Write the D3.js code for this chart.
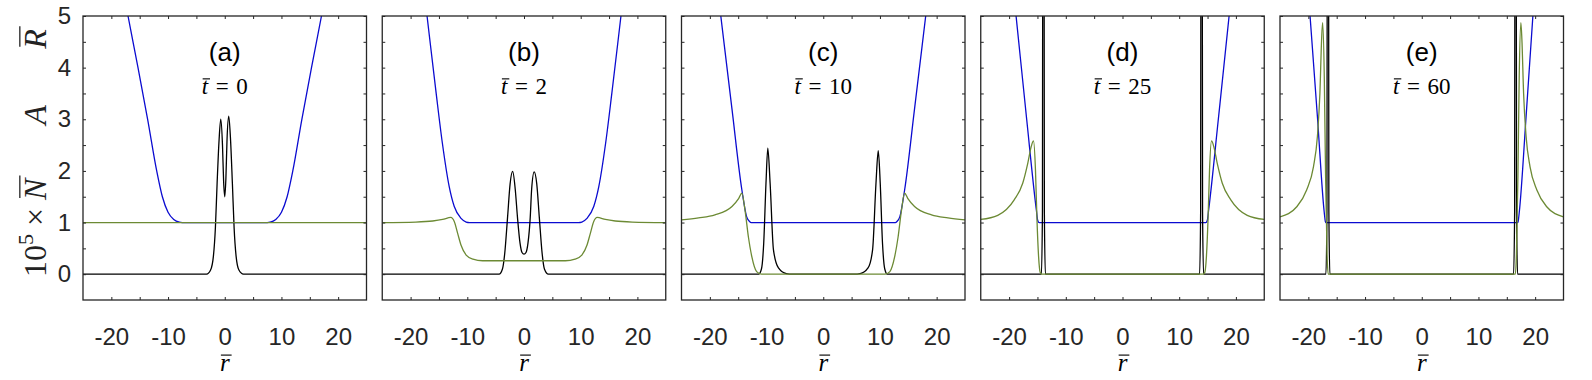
<!DOCTYPE html>
<html>
<head>
<meta charset="utf-8">
<script src="https://cdn.jsdelivr.net/npm/d3@7"></script>
<style>
  body { margin: 0; background: #fff; }
  svg { display: block; }
</style>
</head>
<body>
<div id="my_dataviz"></div>
<script>
// tick labels and panel text
var rTicks = [-20, -10, 0, 10, 20];
var yTicks = [0, 1, 2, 3, 4, 5];
var panelLetters = ["(a)", "(b)", "(c)", "(d)", "(e)"];
var timeValues = ["0", "2", "10", "25", "60"];

// blue curves  [r, value]
var blueA = [[-18.5,5.85],[-17.06,5],[-15.3,4],[-13.6,3],[-12,2],[-11,1.5],[-10,1.2],[-9,1.06],[-8,1.01],[-7,1],
  [7,1],[8,1.01],[9,1.06],[10,1.2],[11,1.5],[12,2],[13.6,3],[15.3,4],[17.06,5],[18.5,5.85]];
var blueB = [[-18.5,6.3],[-17.1,5],[-15.5,3.51],[-14.4,2.54],[-13.2,1.7],[-12.3,1.31],[-11.1,1.08],[-10.2,1.01],[-9.6,1],
  [9.6,1],[10.2,1.01],[11.1,1.08],[12.3,1.31],[13.2,1.7],[14.4,2.54],[15.5,3.51],[17.1,5],[18.5,6.3]];
var blueC = [[-19,5.85],[-18.07,5],[-16.1,3.2],[-14.35,1.63],[-13.5,1.11],[-13,1.02],[-12.7,1],
  [12.7,1],[13,1.02],[13.5,1.11],[14.35,1.63],[16.1,3.2],[18.07,5],[19,5.85]];
var blueD = [[-19.5,5.77],[-18.77,5],[-16.9,3.0],[-15.2,1.25],[-14.95,1.04],[-14.7,1],
  [14.7,1],[14.95,1.04],[15.2,1.25],[16.9,3.0],[18.8,5],[19.5,5.77]];
var blueE = [[-20.3,5.9],[-19.7,5],[-18.4,3.05],[-17.2,1.2],[-17,1.02],[-16.9,1],
  [16.9,1],[17,1.02],[17.2,1.2],[18.4,3.05],[19.6,5],[20.2,5.9]];

// green curves
var greenA = [[-25,1],[25,1]];
var greenB = [[-25,1],[-19.1,1.01],[-16.1,1.03],[-14.35,1.06],[-12.9,1.1],[-12.3,1.02],[-11.7,0.79],[-11.1,0.56],[-10.2,0.37],[-9,0.29],[-7.3,0.26],
  [7.3,0.26],[9,0.29],[10.2,0.37],[11.1,0.56],[11.7,0.79],[12.3,1.02],[12.9,1.1],[14.35,1.06],[16.1,1.03],[19.1,1.01],[25,1]];
var greenC = [[-25,1.05],[-22,1.09],[-19.1,1.15],[-16.1,1.31],[-14.9,1.47],[-14.35,1.57],[-13.8,1.24],[-13.2,0.72],[-12.6,0.34],[-11.75,0.05],[-10.9,0],
  [10.9,0],[11.75,0.05],[12.6,0.34],[13.2,0.72],[13.8,1.24],[14.35,1.57],[14.9,1.47],[16.1,1.31],[19.1,1.15],[22,1.09],[25,1.05]];
var greenD = [[-25,1.06],[-22,1.14],[-19.1,1.44],[-17.6,1.76],[-16.7,2.15],[-16.1,2.47],[-15.7,2.58],[-15.35,2.02],[-15.1,1.11],[-14.8,0.34],[-14.5,0.03],[-14.2,0],
  [14.2,0],[14.5,0.03],[14.8,0.34],[15.1,1.11],[15.35,2.02],[15.7,2.58],[16.1,2.47],[16.7,2.15],[17.6,1.76],[19.1,1.44],[22,1.14],[25,1.06]];
var greenE = [[-25,1.11],[-22,1.31],[-20.3,1.63],[-19.1,2.08],[-18.4,2.67],[-17.96,3.51],[-17.66,4.55],[-17.48,4.87],[-17.19,3.83],[-16.96,1.89],[-16.7,0.38],[-16.5,0],
  [16.5,0],[16.7,0.38],[16.96,1.89],[17.19,3.83],[17.48,4.87],[17.66,4.55],[17.96,3.51],[18.4,2.67],[19.1,2.08],[20.3,1.63],[22,1.31],[25,1.11]];

// black curves
var blackA = [[-25,0],[-3.2,0],[-2.5,0.08],[-2,0.35],[-1.65,0.9],[-1.35,1.75],[-1.0,2.6],[-0.7,3.0],[-0.4,2.5],[-0.2,1.8],[0,1.5],
  [0.2,1.85],[0.4,2.6],[0.7,3.06],[1.0,2.65],[1.35,1.75],[1.65,0.9],[2,0.35],[2.5,0.08],[3.3,0],[25,0]];
var blackB = [[-25,0],[-4.4,0],[-3.8,0.1],[-3.4,0.4],[-2.9,1.1],[-2.45,1.75],[-2,1.99],[-1.55,1.65],[-1.15,1.1],[-0.7,0.6],[-0.35,0.42],[0,0.39],
  [0.35,0.42],[0.7,0.6],[1.1,1.1],[1.35,1.65],[1.8,1.98],[2.25,1.75],[2.7,1.1],[3.2,0.4],[3.6,0.1],[4.3,0],[25,0]];
var blackC = [[-25,0],[-11.4,0],[-10.9,0.1],[-10.5,0.6],[-10.1,1.76],[-9.78,2.44],[-9.37,1.76],[-8.78,0.47],[-7.9,0.12],[-6.5,0.01],[-5.5,0],
  [5.5,0],[6.5,0.01],[7.9,0.12],[8.7,0.47],[9.3,1.76],[9.7,2.39],[10.05,1.76],[10.45,0.6],[10.85,0.1],[11.3,0],[25,0]];
var blackD = [[-25,0],[-14.3,0],[-14.12,1.2],[-14.02,12],[-13.95,40],[-13.88,12],[-13.78,1.2],[-13.6,0],
  [13.6,0],[13.78,1.2],[13.88,12],[13.95,40],[14.02,12],[14.12,1.2],[14.3,0],[25,0]];
var blackE = [[-25,0],[-16.9,0],[-16.72,1.2],[-16.62,12],[-16.55,40],[-16.48,12],[-16.38,1.2],[-16.2,0],
  [16.2,0],[16.38,1.2],[16.48,12],[16.55,40],[16.62,12],[16.72,1.2],[16.9,0],[25,0]];

var blueSeries = [blueA, blueB, blueC, blueD, blueE];
var greenSeries = [greenA, greenB, greenC, greenD, greenE];
var blackSeries = [blackA, blackB, blackC, blackD, blackE];

//set dimensions
var totalW = 1592, totalH = 380;
var margin = {top: 16, left: 83},
    plotW = 283.5,
    plotH = 284,
    step = 299.25;

var axisColor = "#262626";
var blueColor = "#0b0bd0";
var greenColor = "#6c8a34";
var blackColor = "#000000";
var sans = "'Liberation Sans', Arial, sans-serif";
var serif = "'Liberation Serif', 'DejaVu Serif', serif";

var svg = d3.select("#my_dataviz")
  .append("svg")
    .attr("width", totalW)
    .attr("height", totalH);

var x = d3.scaleLinear().domain([-25, 25]).range([0, plotW]);
var y = d3.scaleLinear().domain([-0.5, 5]).range([plotH, 0]);

var line = d3.line()
  .x(function(d) { return x(d[0]); })
  .y(function(d) { return y(d[1]); })
  .curve(d3.curveMonotoneX);

svg.append("defs").append("clipPath")
    .attr("id", "plotclip")
  .append("rect")
    .attr("width", plotW)
    .attr("height", plotH);

// draws a bar over one character of a text element (in the text's own coords)
function overbar(parent, textSel, idx, size, h, skew) {
  var b = textSel.node().getExtentOfChar(idx);
  var base = b.y + b.height - size * 0.216;
  parent.append("line")
    .attr("x1", b.x + skew).attr("x2", b.x + b.width + skew + 1)
    .attr("y1", base - h * size).attr("y2", base - h * size)
    .attr("stroke", "#111").attr("stroke-width", 1.2);
}

panelLetters.forEach(function(letter, i) {
  var g = svg.append("g")
    .attr("transform", "translate(" + (margin.left + i * step) + "," + margin.top + ")");

  // curves
  var lines = g.append("g").attr("clip-path", "url(#plotclip)");
  lines.append("path").datum(blueSeries[i])
    .attr("d", line).attr("fill", "none").attr("stroke", blueColor).attr("stroke-width", 1.3);
  lines.append("path").datum(blackSeries[i])
    .attr("d", line).attr("fill", "none").attr("stroke", blackColor).attr("stroke-width", 1.3);
  lines.append("path").datum(greenSeries[i])
    .attr("d", line).attr("fill", "none").attr("stroke", greenColor).attr("stroke-width", 1.3);

  // axes, ticks inward on all four sides
  var tickX = d3.range(-20, 20.01, 5);
  var tickY = d3.range(0, 5.01, 0.5);

  g.append("g")
    .attr("transform", "translate(0," + plotH + ")")
    .call(d3.axisBottom(x).tickValues(tickX).tickSize(-3).tickFormat(function(v) {
      return rTicks.indexOf(v) >= 0 ? String(v) : "";
    }).tickPadding(28))
    .call(styleAxis);
  g.append("g")
    .call(d3.axisTop(x).tickValues(tickX).tickSize(-3).tickFormat(""))
    .call(styleAxis);
  var left = g.append("g")
    .call(d3.axisLeft(y).tickValues(tickY).tickSize(-3).tickFormat(function(v) {
      return yTicks.indexOf(v) >= 0 ? String(v) : "";
    }).tickPadding(12))
    .call(styleAxis);
  if (i > 0) left.selectAll("text").remove();
  g.append("g")
    .attr("transform", "translate(" + plotW + ",0)")
    .call(d3.axisRight(y).tickValues(tickY).tickSize(-3).tickFormat(""))
    .call(styleAxis);

  g.append("rect")
    .attr("width", plotW).attr("height", plotH)
    .attr("fill", "none").attr("stroke", axisColor).attr("stroke-width", 1.3);

  // panel labels
  g.append("text")
    .attr("x", plotW / 2).attr("y", 45)
    .attr("text-anchor", "middle")
    .style("font-family", sans)
    .style("font-size", "26px")
    .attr("fill", "#000")
    .text(letter);

  var tl = g.append("text")
    .attr("x", plotW / 2).attr("y", 78)
    .attr("text-anchor", "middle")
    .style("font-family", serif)
    .style("font-size", "23px")
    .attr("fill", "#000");
  tl.append("tspan").style("font-style", "italic").text("t");
  tl.append("tspan").text("\u2004=\u2004" + timeValues[i]);
  overbar(g, tl, 0, 23, 0.66, 1);

  // x label
  var xl = g.append("text")
    .attr("x", plotW / 2).attr("y", 355)
    .attr("text-anchor", "middle")
    .style("font-family", serif)
    .style("font-size", "25px")
    .style("font-style", "italic")
    .attr("fill", "#000")
    .text("r");
  overbar(g, xl, 0, 25, 0.62, 1);
});

function styleAxis(sel) {
  sel.select(".domain").remove();
  sel.selectAll(".tick line").attr("stroke", axisColor).attr("stroke-width", 1);
  sel.selectAll(".tick text")
    .attr("fill", axisColor)
    .style("font-family", sans)
    .style("font-size", "24px");
}

// y label, rotated
var ySize = 32;
var g1 = svg.append("g").attr("transform", "translate(46,277) rotate(-90)");
var t1 = g1.append("text")
  .style("font-family", serif).style("font-size", ySize + "px").attr("fill", "#222");
t1.append("tspan").text("10");
t1.append("tspan").attr("dy", -13).style("font-size", "22px").text("5");
t1.append("tspan").attr("dy", 13).text("\u2005×\u2005");
t1.append("tspan").style("font-style", "italic").text("N");
overbar(g1, t1, 6, ySize, 0.82, 2);

var g2 = svg.append("g").attr("transform", "translate(46,115) rotate(-90)");
g2.append("text")
  .attr("text-anchor", "middle")
  .style("font-family", serif).style("font-size", ySize + "px").style("font-style", "italic").attr("fill", "#222")
  .text("A");

var g3 = svg.append("g").attr("transform", "translate(46,39) rotate(-90)");
var t3 = g3.append("text")
  .attr("text-anchor", "middle")
  .style("font-family", serif).style("font-size", ySize + "px").style("font-style", "italic").attr("fill", "#222")
  .text("R");
overbar(g3, t3, 0, ySize, 0.82, 2);
</script>
</body>
</html>
